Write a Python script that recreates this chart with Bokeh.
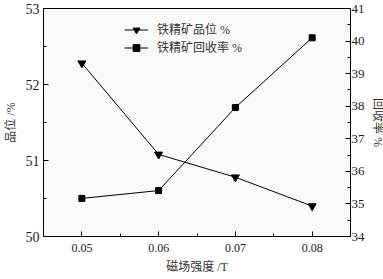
from bokeh.plotting import figure
from bokeh.models import Range1d, LinearAxis, FixedTicker, Legend, LegendItem
from bokeh.embed import file_html
from bokeh.resources import INLINE

field = [0.05, 0.06, 0.07, 0.08]
grade = [52.28, 51.08, 50.78, 50.40]
recovery = [35.17, 35.41, 37.96, 40.10]
x_ticks = [0.05, 0.06, 0.07, 0.08]
x_labels = ["0.05", "0.06", "0.07", "0.08"]
grade_ticks = [50, 51, 52, 53]
rec_ticks = [34, 35, 36, 37, 38, 39, 40, 41]

SERIF = "'Liberation Serif', 'Noto Sans CJK SC', serif"

p = figure(frame_width=307, frame_height=228, output_backend="svg", toolbar_location=None,
           x_range=Range1d(0.045, 0.085), y_range=Range1d(50, 53),
           min_border_left=28, min_border_right=32, min_border_top=8,
           min_border_bottom=30)
p.extra_y_ranges = {"rec": Range1d(34, 41)}
p.background_fill_color = "#fafafa"
p.border_fill_color = "white"
p.outline_line_color = "black"
p.outline_line_width = 1
p.xgrid.visible = False
p.ygrid.visible = False

def style(ax, size):
    ax.axis_line_color = "black"
    ax.major_tick_in = 5
    ax.major_tick_out = 0
    ax.minor_tick_in = 3
    ax.minor_tick_out = 0
    ax.major_tick_line_color = "black"
    ax.minor_tick_line_color = "black"
    ax.major_label_text_font = SERIF
    ax.major_label_text_font_size = size
    ax.major_label_text_color = "#222222"
    ax.axis_label_text_font = SERIF
    ax.axis_label_text_font_size = "12px"
    ax.axis_label_text_font_style = "normal"
    ax.axis_label_text_color = "#333333"
    ax.major_label_standoff = 3
    ax.axis_label_standoff = 3

xa = p.xaxis[0]
xa.ticker = FixedTicker(ticks=x_ticks, minor_ticks=[0.055, 0.065, 0.075])
xa.major_label_overrides = {t: l for t, l in zip(x_ticks, x_labels)}
xa.axis_label = "磁场强度 /T"
style(xa, "12px")
xa.major_label_standoff = 7
xa.axis_label_standoff = 5

ya = p.yaxis[0]
ya.ticker = FixedTicker(ticks=grade_ticks, minor_ticks=[50.5, 51.5, 52.5])
ya.axis_label = "品位 /%"
style(ya, "14px")
ya.major_label_standoff = 4
ya.axis_label_standoff = 5

ra = LinearAxis(y_range_name="rec", axis_label="回收率 %")
ra.ticker = FixedTicker(ticks=rec_ticks, minor_ticks=[34.5 + i for i in range(7)])
style(ra, "13px")
ra.major_label_standoff = 1
ra.axis_label_standoff = 3
p.add_layout(ra, "right")

l1 = p.line(field, grade, line_color="black", line_width=1)
m1 = p.scatter(field, grade, marker="inverted_triangle", size=8, color="black")
l2 = p.line(field, recovery, line_color="black", line_width=1, y_range_name="rec")
m2 = p.scatter(field, recovery, marker="square", size=6, color="black", y_range_name="rec")

legend = Legend(items=[LegendItem(label="铁精矿品位 %", renderers=[l1, m1]),
                       LegendItem(label="铁精矿回收率 %", renderers=[l2, m2])],
                location=(81, 180), padding=0, spacing=0, margin=0,
                glyph_width=24, glyph_height=17, label_height=17,
                label_standoff=9, border_line_color=None,
                background_fill_alpha=0,
                label_text_font=SERIF, label_text_font_size="12px",
                label_text_color="#333333")
p.add_layout(legend)

open("out.html", "w").write(file_html(p, INLINE))
